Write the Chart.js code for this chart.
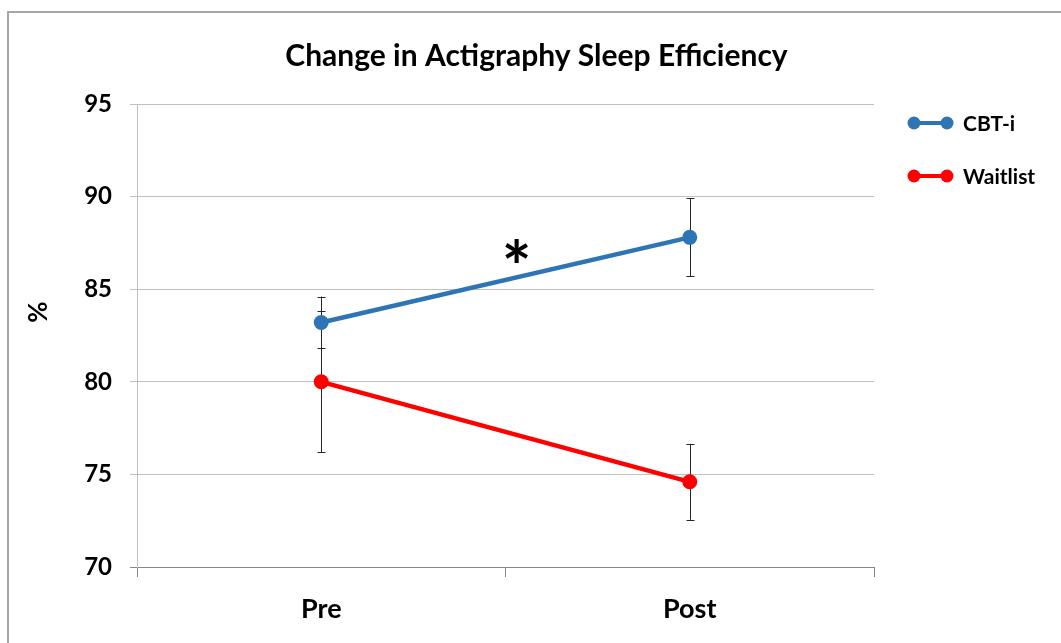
<!DOCTYPE html>
<html>
<head>
<meta charset="utf-8">
<script src="https://cdn.jsdelivr.net/npm/chart.js@4.4.0/dist/chart.umd.min.js"></script>
<style>
  html, body { margin: 0; padding: 0; background: #fff; overflow: hidden; }
  #wrap { position: relative; width: 1061px; height: 643px; }
  #frame { position: absolute; left: 7px; top: 11px; width: 1100px; height: 700px;
           border: 2px solid #a6a6a6; box-sizing: border-box; pointer-events: none; }
</style>
</head>
<body>
<div id="wrap">
  <canvas id="myChart" width="1061" height="643"></canvas>
  <div id="frame"></div>
</div>
<script>
// data
const categories = ['Pre', 'Post'];
const seriesNames = ['CBT-i', 'Waitlist'];
const cbtValues = [83.2, 87.8];
const cbtErrors = [1.4, 2.1];
const waitlistValues = [80.0, 74.6];
const waitlistErrors = [3.8, 2.05];
const yTicks = [70, 75, 80, 85, 90, 95];
const seriesColors = ['#2e75b6', '#ff0000'];
const yTitle = '%';
// significance star, sits between the two time points
const starText = '*';
const starPos = [0.53, 87.1];

const errors = [cbtErrors, waitlistErrors];

Chart.defaults.font.family = 'Lato';
Chart.defaults.font.weight = 'bold';
Chart.defaults.color = '#000';

const errorBars = {
  id: 'errorBars',
  beforeDatasetsDraw(chart) {
    const ctx = chart.ctx;
    const xs = chart.scales.x, ys = chart.scales.y;
    ctx.save();
    ctx.strokeStyle = '#262626';
    ctx.lineWidth = 1;
    chart.data.datasets.forEach((ds, i) => {
      ds.data.forEach((v, j) => {
        const e = errors[i][j];
        const x = Math.round(xs.getPixelForValue(j)) + 0.5;
        const top = ys.getPixelForValue(v + e);
        const bot = ys.getPixelForValue(v - e);
        ctx.beginPath();
        ctx.moveTo(x, top); ctx.lineTo(x, bot);
        ctx.moveTo(x - 4, Math.round(top) + 0.5); ctx.lineTo(x + 4, Math.round(top) + 0.5);
        ctx.moveTo(x - 4, Math.round(bot) + 0.5); ctx.lineTo(x + 4, Math.round(bot) + 0.5);
        ctx.stroke();
      });
    });
    ctx.restore();
  }
};

const extras = {
  id: 'extras',
  afterDraw(chart) {
    const ctx = chart.ctx;
    const area = chart.chartArea;
    const xs = chart.scales.x, ys = chart.scales.y;
    ctx.save();
    // star
    ctx.font = 'bold 70px Lato';
    ctx.textAlign = 'center';
    ctx.textBaseline = 'alphabetic';
    const m = ctx.measureText(starText);
    const sy = ys.getPixelForValue(starPos[1]);
    const off = (m.actualBoundingBoxAscent - m.actualBoundingBoxDescent) / 2;
    ctx.fillStyle = '#000';
    ctx.fillText(starText, xs.getPixelForValue(starPos[0]), sy + off);
    // y axis title, Excel puts it a bit above the middle
    ctx.save();
    ctx.translate(area.left - 98, area.top + 208);
    ctx.rotate(-Math.PI / 2);
    ctx.font = 'bold 26px Lato';
    ctx.textBaseline = 'middle';
    ctx.fillText(yTitle, 0, 0);
    ctx.restore();
    // legend
    ctx.font = 'bold 21px Lato';
    ctx.textAlign = 'left';
    ctx.textBaseline = 'middle';
    chart.data.datasets.forEach((ds, i) => {
      const y = area.top + 19 + i * 53;
      const x0 = area.right + 40, x1 = area.right + 73;
      ctx.strokeStyle = ds.borderColor;
      ctx.lineWidth = 4;
      ctx.beginPath(); ctx.moveTo(x0, y); ctx.lineTo(x1, y); ctx.stroke();
      ctx.fillStyle = ds.borderColor;
      [x0, x1].forEach(px => { ctx.beginPath(); ctx.arc(px, y, 6.5, 0, Math.PI * 2); ctx.fill(); });
      ctx.fillStyle = '#000';
      ctx.fillText(ds.label, area.right + 89, y + 1);
    });
    ctx.restore();
  }
};

const data = {
  labels: categories,
  datasets: [
    { label: seriesNames[0], data: cbtValues, borderColor: seriesColors[0], backgroundColor: seriesColors[0] },
    { label: seriesNames[1], data: waitlistValues, borderColor: seriesColors[1], backgroundColor: seriesColors[1] }
  ]
};

const config = {
  type: 'line',
  data,
  options: {
    responsive: false,
    animation: false,
    layout: { padding: { left: 12, right: 0, top: 0, bottom: 0 } },
    elements: {
      line: { borderWidth: 4.5, tension: 0 },
      point: { radius: 7.5, borderWidth: 0, hoverRadius: 7.5 }
    },
    plugins: {
      legend: { display: false },
      tooltip: { enabled: false },
      title: {
        display: true,
        text: 'Change in Actigraphy Sleep Efficiency',
        font: { size: 30, weight: 'bold' },
        color: '#000',
        padding: { top: 38, bottom: 30 }
      }
    },
    scales: {
      x: {
        offset: true,
        grid: { offset: true, drawOnChartArea: false, tickLength: 10, color: '#868686' },
        border: { color: '#868686', width: 1 },
        ticks: { font: { size: 27 }, padding: 16, color: '#000' },
        afterFit(s) { s.height = 76; }
      },
      y: {
        min: yTicks[0],
        max: yTicks[yTicks.length - 1],
        ticks: { stepSize: yTicks[1] - yTicks[0], font: { size: 24 }, padding: 18, color: '#000' },
        grid: {
          tickLength: 7,
          color: c => c.tick && c.tick.value === yTicks[0] ? '#868686' : '#c0c0c0'
        },
        border: { color: '#c0c0c0' },
        afterFit(s) { s.width = 125; }
      },
      legendSpace: {
        type: 'linear',
        position: 'right',
        display: true,
        grid: { display: false, drawTicks: false },
        border: { display: false },
        ticks: { display: false },
        afterFit(s) { s.width = 187; }
      }
    }
  },
  plugins: [errorBars, extras]
};

const myChart = new Chart(document.getElementById('myChart'), config);
</script>
</body>
</html>
